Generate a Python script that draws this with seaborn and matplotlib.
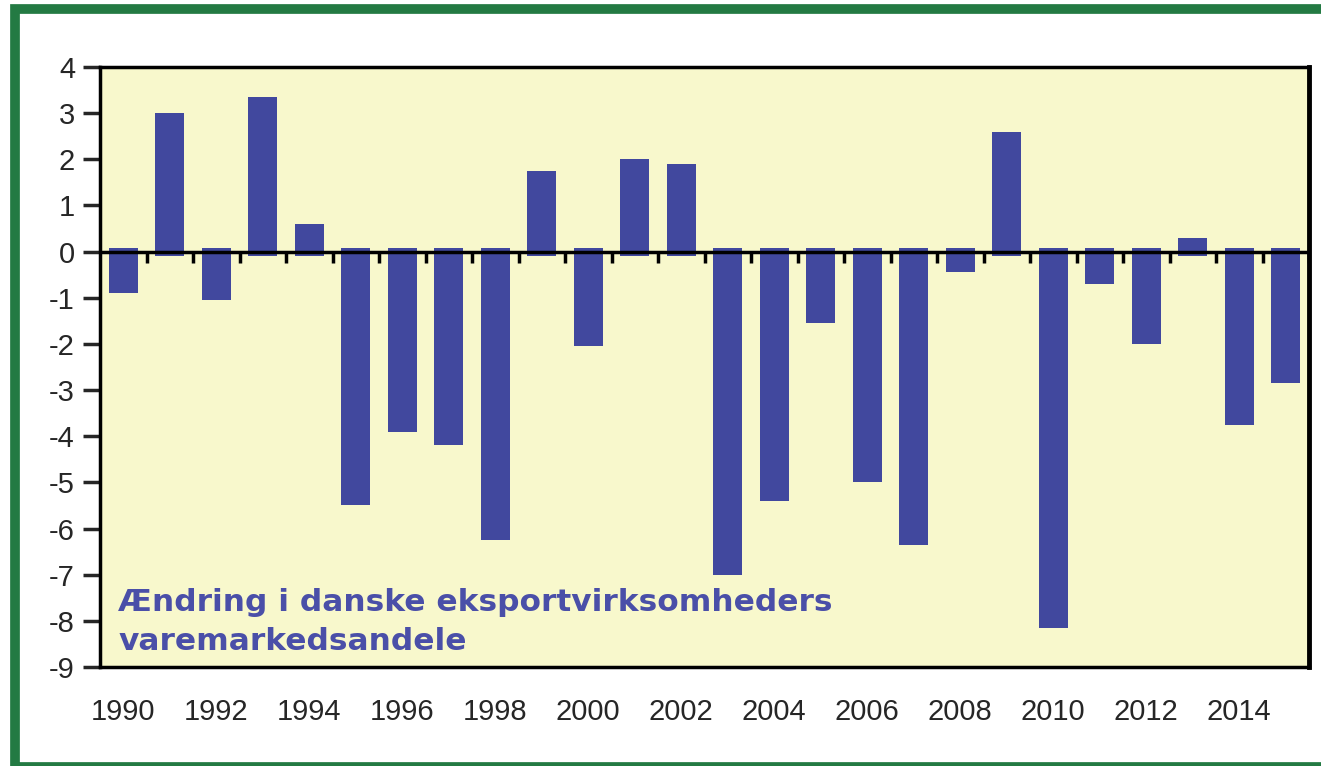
import pandas as pd
import matplotlib.pyplot as plt
import seaborn as sns
from matplotlib.patches import Rectangle

# Data
years = list(range(1990, 2016))
change = [-0.9, 3.0, -1.05, 3.35, 0.6, -5.5, -3.9, -4.2, -6.25, 1.75,
          -2.05, 2.0, 1.9, -7.0, -5.4, -1.55, -5.0, -6.35, -0.45, 2.6,
          -8.15, -0.7, -2.0, 0.3, -3.75, -2.85]
label_text = "Ændring i danske eksportvirksomheders\nvaremarkedsandele"

data = pd.DataFrame({"year": [str(y) for y in years], "change": change})

sns.set_style("white")
plt.rcParams['font.family'] = ['Liberation Sans', 'DejaVu Sans']

fig = plt.figure(figsize=(13.21, 7.66), dpi=100)
ax = fig.add_axes([100/1321, 1-667/766, 1209/1321, 600/766])
ax.set_facecolor('#F8F8CC')

sns.barplot(x="year", y="change", data=data, color='#41489E', saturation=1,
            width=0.63, linewidth=0, ax=ax)

# bars in the original overlap the zero line a little
for p in ax.patches:
    h = p.get_height()
    if h > 0:
        p.set_y(-0.1)
        p.set_height(h + 0.1)
    else:
        p.set_y(0.08)
        p.set_height(h - 0.08)

ax.set_ylim(-9, 4)
ax.set_xlim(-0.5, len(years) - 0.5)
ax.set_yticks(range(-9, 5))
ax.set_yticklabels([str(v) for v in range(-9, 5)], fontsize=21)
ax.set_xticks(range(0, len(years), 2))
ax.set_xticklabels([str(y) for y in years[::2]], fontsize=21)
ax.tick_params(axis='y', direction='out', length=12, width=2.5, pad=6, left=True)
ax.tick_params(axis='x', length=0, pad=22)
ax.set_xlabel("")
ax.set_ylabel("")

for s in ax.spines.values():
    s.set_visible(True)
    s.set_color('black')
    s.set_linewidth(2.5)
ax.spines['right'].set_linewidth(3.5)

# zero line with category ticks
ax.axhline(0, color='black', linewidth=2.5, zorder=3)
for i in range(len(years)):
    ax.plot([i + 0.5, i + 0.5], [0, -0.24], color='black', linewidth=2.5,
            solid_capstyle='butt', zorder=3)

ax.text(0.015, 0.075, label_text, transform=ax.transAxes, fontsize=22.5,
        family='DejaVu Sans', fontweight='bold', color='#4A4FA8',
        va='center', ha='left', linespacing=1.4)

# green frame
fig.add_artist(Rectangle((15/1321, -1/766), 1330/1321, 758/766,
                         transform=fig.transFigure, fill=False,
                         edgecolor='#237A43', linewidth=7))

fig.savefig("out.png", dpi=100, facecolor='white')
